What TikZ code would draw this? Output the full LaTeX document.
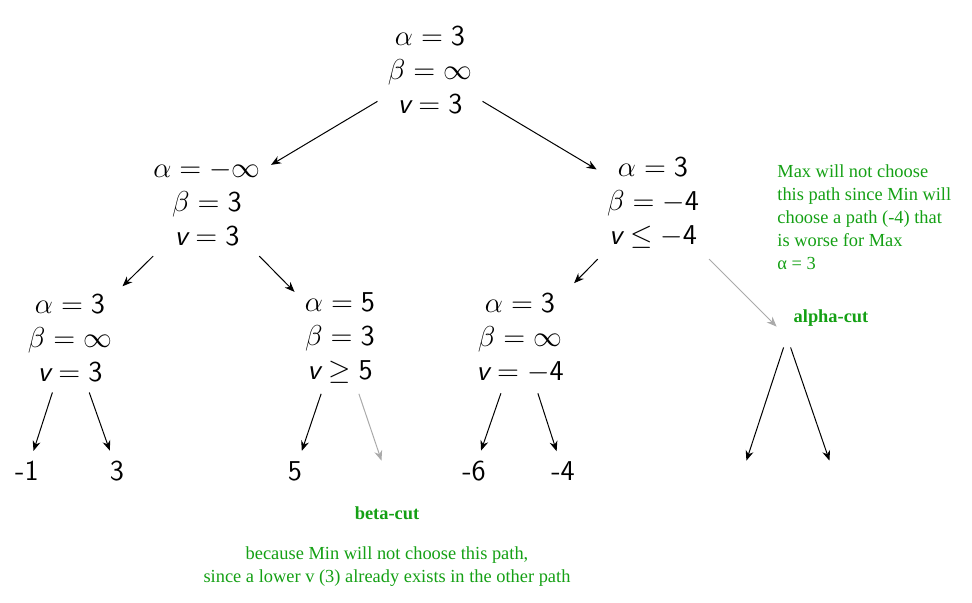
\documentclass[tikz,border=0pt]{standalone}
\usepackage{amsmath}
\usepackage{fontspec}
\newfontfamily\notefont{Liberation Serif}
\usetikzlibrary{arrows.meta}
\definecolor{notegreen}{RGB}{20,160,20}
\definecolor{cutgray}{RGB}{170,170,170}
\newcommand{\vv}{\text{\sffamily\itshape v}}
\newcommand{\nn}[1]{\mathsf{#1}}
\begin{document}
\begin{tikzpicture}[x=0.5pt,y=-0.5pt,
		state/.style={align=center,inner sep=5pt,font=\fontsize{14.4}{17}\selectfont},
		leaf/.style={inner sep=5pt,font=\fontsize{14.4}{17}\selectfont\sffamily},
		edge/.style={-{Stealth[length=5pt,width=4pt]},line width=0.5pt},
		cutedge/.style={edge,cutgray},
		note/.style={inner sep=0pt,text=notegreen,font=\notefont\fontsize{9.2}{11.5}\selectfont}]
	\useasboundingbox (0,0) rectangle (972,602);
	% tree nodes
	\node[state] (root) at (430,70) {$\alpha = \nn{3}$\\$\beta = \infty$\\$\vv = \nn{3}$};
	\node[state] (l) at (207,203) {$\alpha = -\infty$\\$\beta = \nn{3}$\\$\vv = \nn{3}$};
	\node[state] (r) at (653,203) {$\alpha = \nn{3}$\\$\beta = -\nn{4}$\\$\vv \leq -\nn{4}$};
	\node[state] (ll) at (70,338) {$\alpha = \nn{3}$\\$\beta = \infty$\\$\vv = \nn{3}$};
	\node[state] (lr) at (340,338) {$\alpha = \nn{5}$\\$\beta = \nn{3}$\\$\vv \geq \nn{5}$};
	\node[state] (rl) at (520,338) {$\alpha = \nn{3}$\\$\beta = \infty$\\$\vv = -\nn{4}$};
	\node[leaf] (cuta) at (787,337) {};
	% leaves
	\node[leaf] (a1) at (27,471) {-1};
	\node[leaf] (a2) at (117,471) {3};
	\node[leaf] (b1) at (295,471) {5};
	\node[leaf] (b2) at (385,471) {};
	\node[leaf] (c1) at (474,471) {-6};
	\node[leaf] (c2) at (563,471) {-4};
	\node[leaf] (d1) at (743,471) {};
	\node[leaf] (d2) at (833,471) {};
	% edges
	\draw[edge] (root) -- (l);
	\draw[edge] (root) -- (r);
	\draw[edge] (l) -- (ll);
	\draw[edge] (l) -- (lr);
	\draw[edge] (r) -- (rl);
	\draw[cutedge] (r) -- (cuta);
	\draw[edge] (ll) -- (a1);
	\draw[edge] (ll) -- (a2);
	\draw[edge] (lr) -- (b1);
	\draw[cutedge] (lr) -- (b2);
	\draw[edge] (rl) -- (c1);
	\draw[edge] (rl) -- (c2);
	\draw[edge] (cuta) -- (d1);
	\draw[edge] (cuta) -- (d2);
	% notes
	\node[note,anchor=north west,align=left] (why) at (777,164) {Max will not choose\\this path since Min will\\choose a path (-4) that\\is worse for Max\\α = 3};
	\node[note,font=\notefont\fontsize{9.2}{11.5}\selectfont\bfseries] (alabel) at (831,318) {alpha-cut};
	\node[note,font=\notefont\fontsize{9.2}{11.5}\selectfont\bfseries] (blabel) at (387,513) {beta-cut};
	\node[note,align=center] (because) at (387,567) {because Min will not choose this path,\\since a lower v (3) already exists in the other path};
\end{tikzpicture}
\end{document}
